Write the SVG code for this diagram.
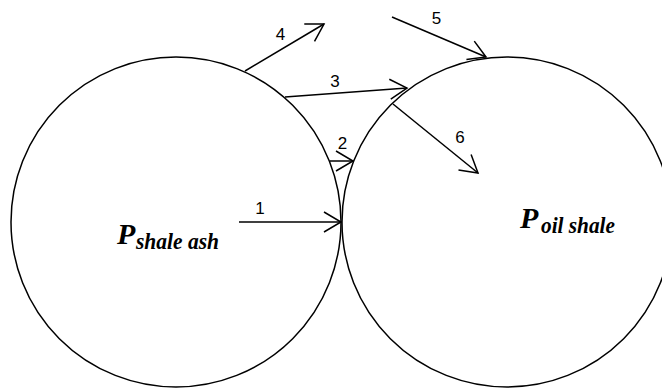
<svg xmlns="http://www.w3.org/2000/svg" width="662" height="388" viewBox="0 0 662 388">
<style>
.c{fill:none;stroke:#000;stroke-width:1.5}
.a{fill:none;stroke:#000;stroke-width:1.5;marker-end:url(#ah)}
.n{font-family:"Liberation Sans",Arial,sans-serif;font-size:17px;fill:#000;text-anchor:middle}
.p{font-family:"Liberation Serif","Times New Roman",serif;font-weight:bold;font-style:italic;fill:#000;font-size:30px}
.s{font-family:"Liberation Serif","Times New Roman",serif;font-weight:bold;font-style:italic;fill:#000;font-size:23px}
</style>
<defs>
<marker id="ah" markerUnits="userSpaceOnUse" markerWidth="22" markerHeight="24" refX="17" refY="10" orient="auto" overflow="visible">
<path d="M0,0 L17,10 L0,20" fill="none" stroke="#000" stroke-width="1.5"/>
</marker>
</defs>
<rect width="662" height="388" fill="#fff"/>
<g id="shale-ash">
<circle class="c" cx="176" cy="222" r="165"/>
<text class="p" x="117" y="244">P</text>
<text class="s" x="136" y="249" textLength="83" lengthAdjust="spacingAndGlyphs">shale ash</text>
</g>
<g id="oil-shale">
<circle class="c" cx="507" cy="222" r="165"/>
<text class="p" x="520" y="228">P</text>
<text class="s" x="541" y="233" textLength="74" lengthAdjust="spacingAndGlyphs">oil shale</text>
</g>
<g id="connectors">
<line class="a" x1="239" y1="222" x2="341" y2="222"/>
<line class="a" x1="330" y1="161" x2="353" y2="161"/>
<line class="a" x1="285" y1="97" x2="407" y2="88"/>
<line class="a" x1="245" y1="71" x2="324" y2="24"/>
<line class="a" x1="392" y1="17" x2="486" y2="57"/>
<line class="a" x1="393" y1="104" x2="478" y2="173"/>
<text class="n" x="260" y="214">1</text>
<text class="n" x="342.5" y="149">2</text>
<text class="n" x="335" y="87">3</text>
<text class="n" x="280.5" y="40">4</text>
<text class="n" x="436.5" y="24">5</text>
<text class="n" x="460" y="143">6</text>
</g>
</svg>
